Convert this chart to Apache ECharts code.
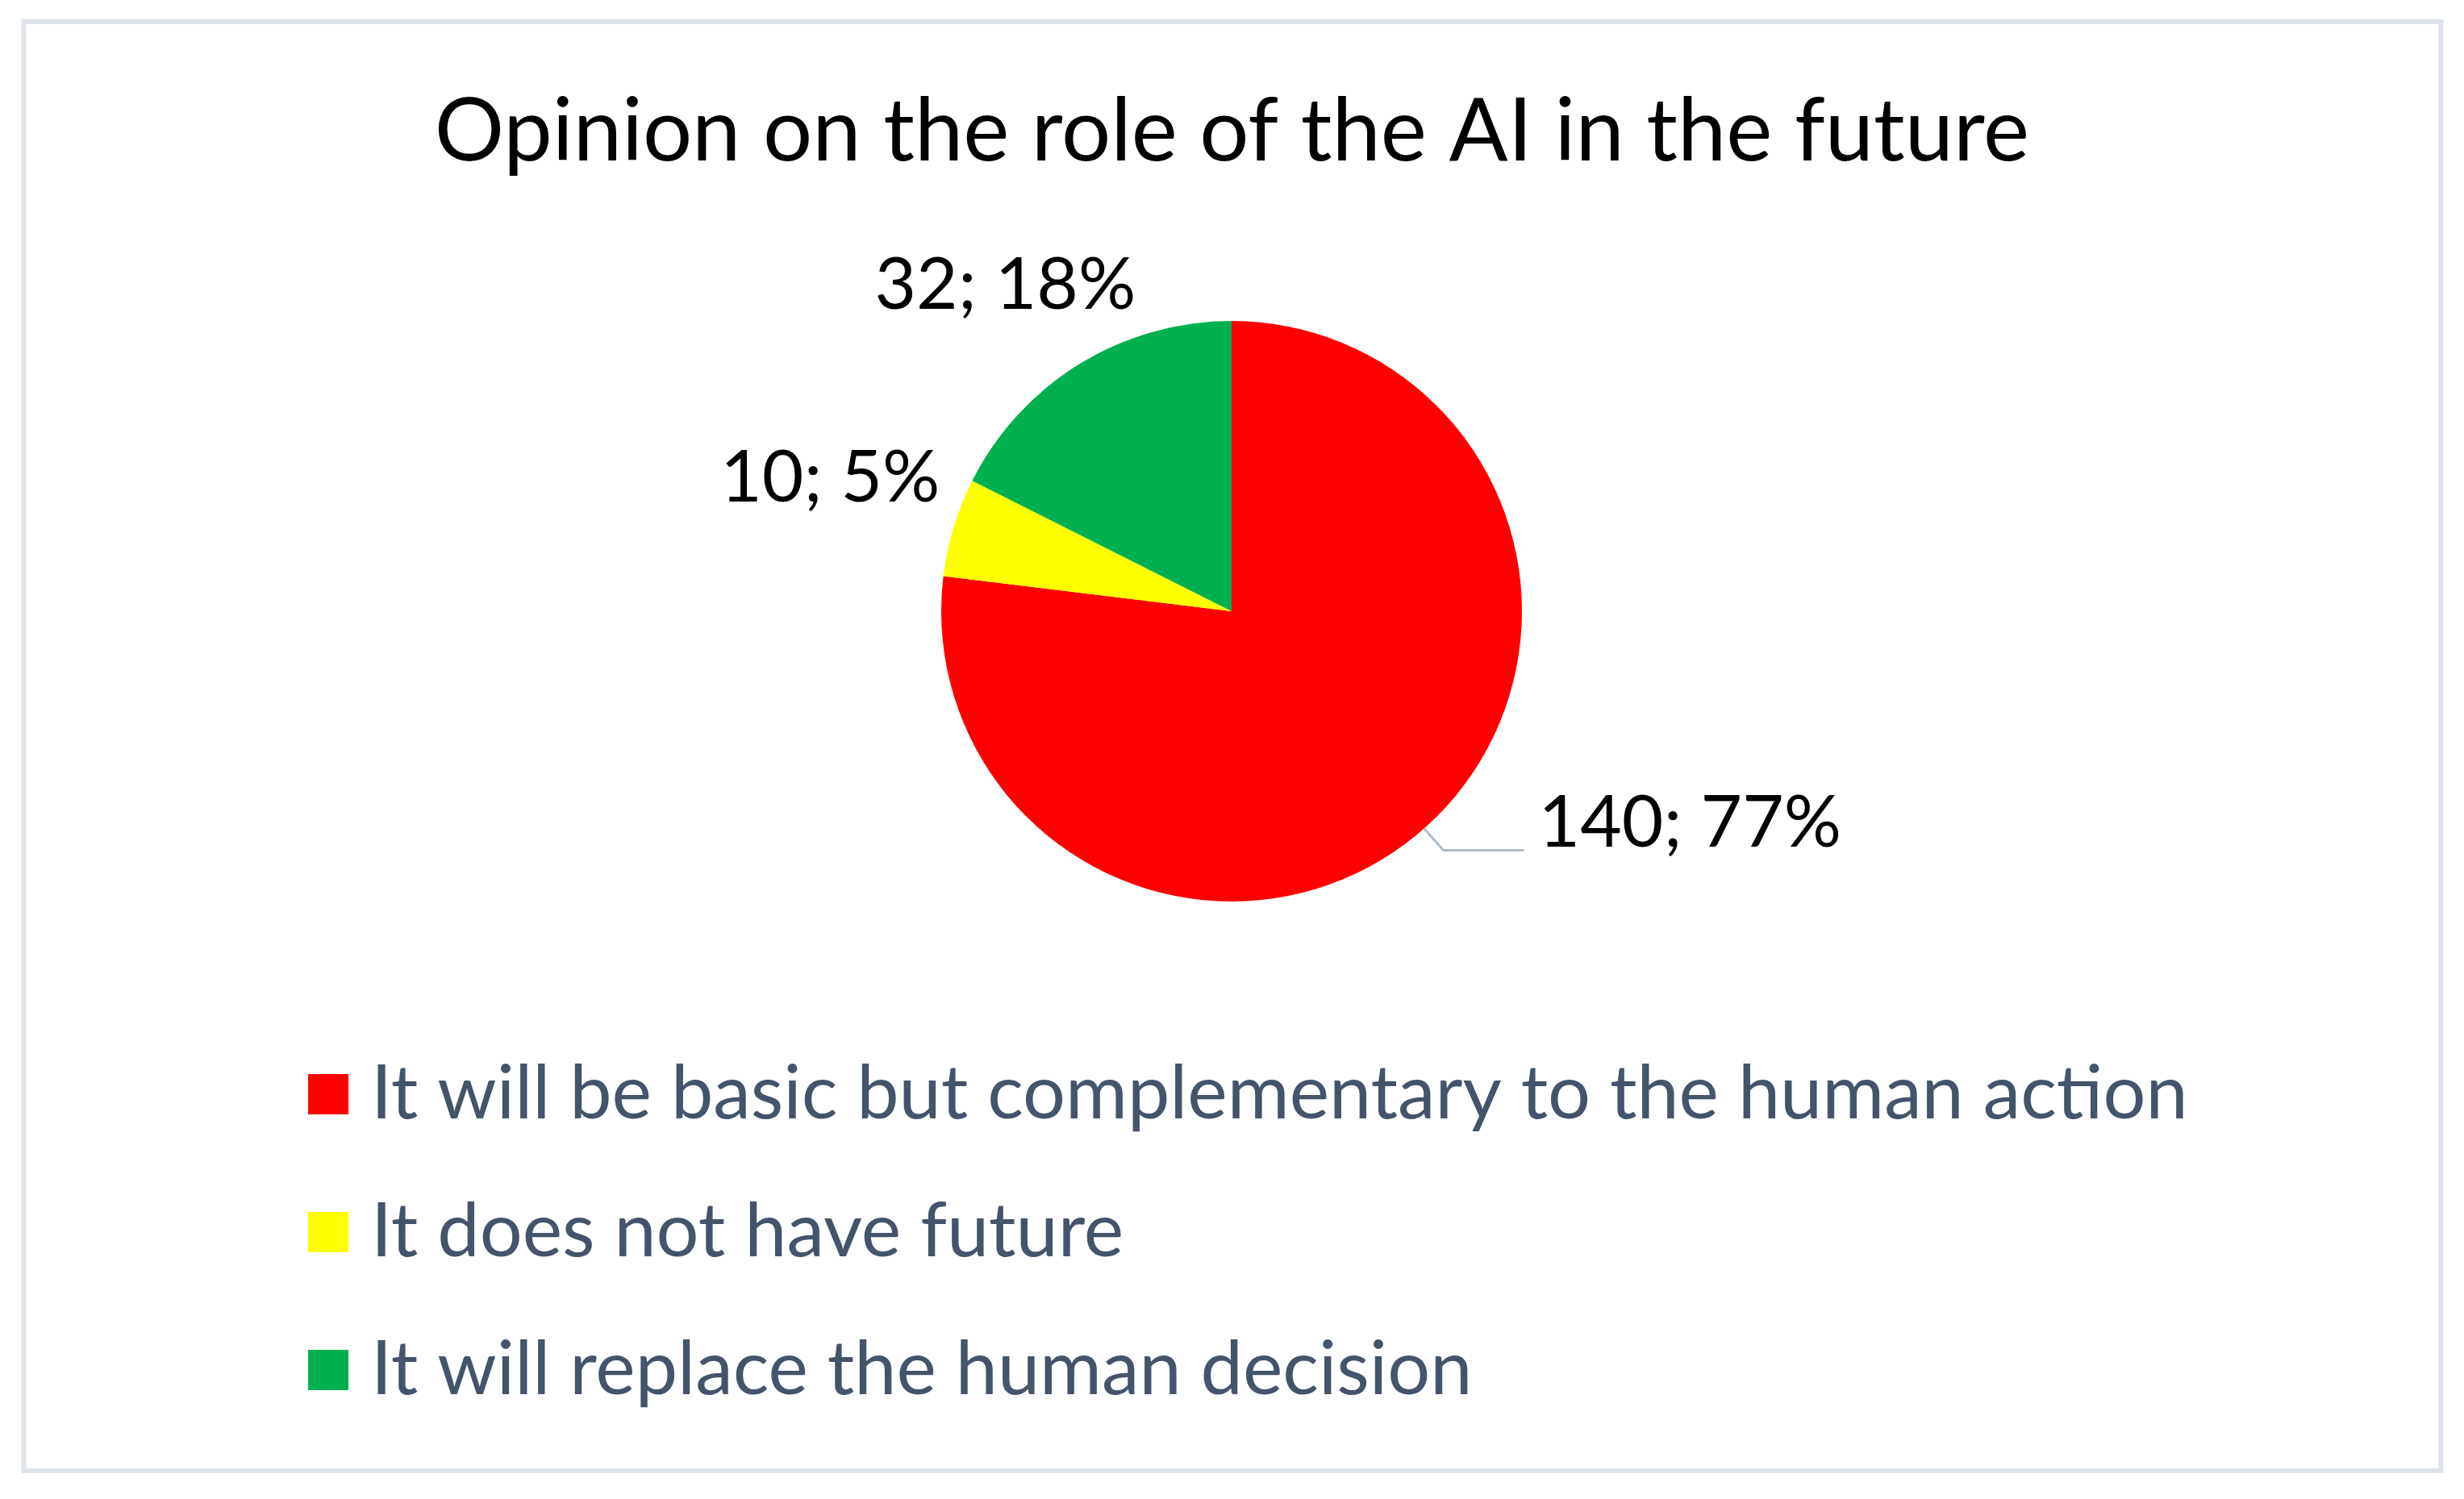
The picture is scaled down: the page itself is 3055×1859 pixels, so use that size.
<!DOCTYPE html>
<html>
<head>
<meta charset="utf-8">
<script src="https://cdn.jsdelivr.net/npm/echarts@6/dist/echarts.min.js"></script>
<style>
html,body{margin:0;padding:0;background:#fff;}
#chart{width:3055px;height:1859px;}
</style>
</head>
<body>
<div id="chart"></div>
<script>
const titleText = 'Opinion on the role of the AI in the future';
const categories = [
  'It will be basic but complementary to the human action',
  'It does not have future',
  'It will replace the human decision'
];
const values = [140, 10, 32];
const colors = ['#FF0000', '#FFFF00', '#00B050'];

// label placement styling per slice (line lengths, visibility)
const labelLineStyles = [
  { show: true, length: 36, length2: 100, dist: 18, fmt: '{c}; {d}%\n', lh: 66 },
  { show: false, length: 211, length2: -190, dist: 5, fmt: '{c}; {d}%', lh: 88 },
  { show: false, length: 114, length2: -135, dist: 5, fmt: '{c}; {d}%', lh: 88 }
];

const FONT = 'Lato';
const chart = echarts.init(document.getElementById('chart'), null, { renderer: 'canvas' });

const option = {
  backgroundColor: '#ffffff',
  animation: false,
  graphic: [{
    type: 'rect',
    shape: { x: 29.5, y: 27, width: 2997, height: 1797 },
    style: { fill: 'none', stroke: '#DDE3EA', lineWidth: 6 },
    silent: true, z: -10
  }],
  title: {
    text: titleText,
    left: 'center',
    top: 105,
    textStyle: { fontFamily: FONT, fontSize: 108, fontWeight: 'normal', color: '#000000' }
  },
  legend: {
    orient: 'vertical',
    left: 377,
    top: 1302,
    itemWidth: 50,
    itemHeight: 50,
    itemGap: 71,
    icon: 'rect',
    data: categories,
    textStyle: { fontFamily: FONT, fontSize: 93.5, color: '#44546A', lineHeight: 100, padding: [0, 0, 0, 23] }
  },
  series: [{
    type: 'pie',
    center: [1527, 758],
    radius: 360,
    startAngle: 90,
    clockwise: true,
    avoidLabelOverlap: false,
    percentPrecision: 0,
    label: {
      show: true,
      position: 'outside',
      formatter: '{c}; {d}%',
      fontFamily: FONT,
      fontSize: 89,
      color: '#000000'
    },
    labelLine: { lineStyle: { color: '#ADBCCB', width: 3 } },
    emphasis: { disabled: true },
    data: categories.map((name, i) => ({
      name: name,
      value: values[i],
      itemStyle: { color: colors[i] },
      label: {
        distanceToLabelLine: labelLineStyles[i].dist,
        formatter: labelLineStyles[i].fmt,
        lineHeight: labelLineStyles[i].lh
      },
      labelLine: {
        show: labelLineStyles[i].show,
        length: labelLineStyles[i].length,
        length2: labelLineStyles[i].length2,
        smooth: false
      }
    }))
  }]
};
chart.setOption(option);
</script>
</body>
</html>
